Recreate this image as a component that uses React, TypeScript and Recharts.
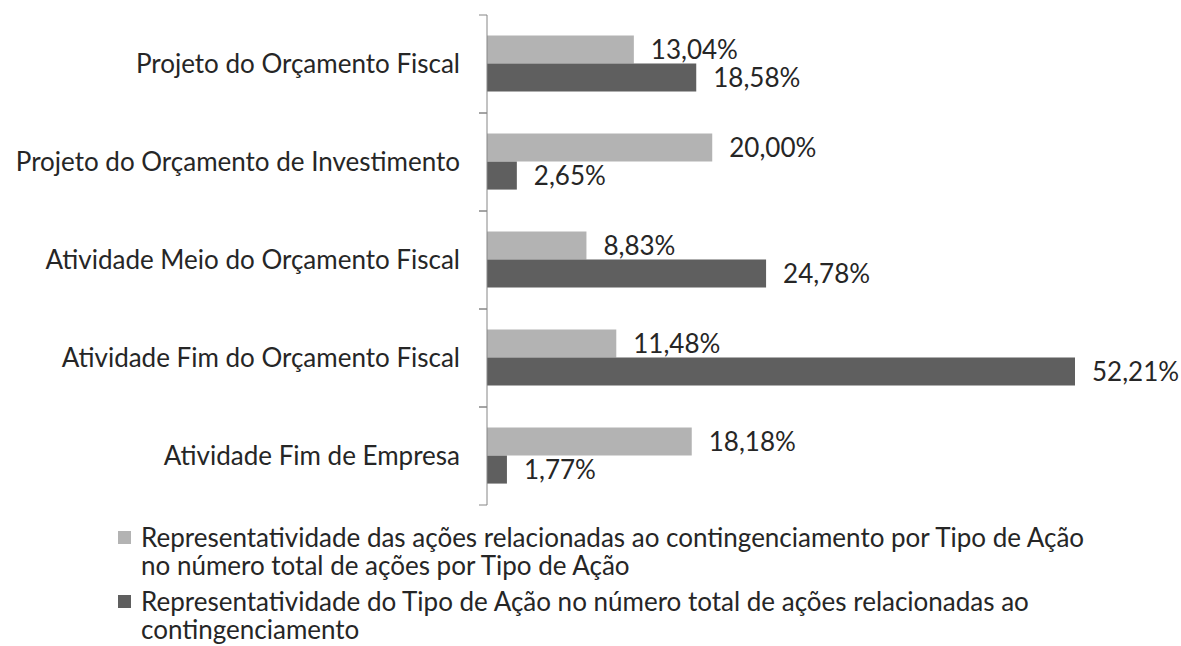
import { BarChart, Bar, XAxis, YAxis, Legend, LabelList } from 'recharts';

const categorias = [
    'Projeto do Orçamento Fiscal',
    'Projeto do Orçamento de Investimento',
    'Atividade Meio do Orçamento Fiscal',
    'Atividade Fim do Orçamento Fiscal',
    'Atividade Fim de Empresa',
];
const representatividadeAcoes = [13.04, 20.0, 8.83, 11.48, 18.18];
const representatividadeTipo = [18.58, 2.65, 24.78, 52.21, 1.77];

const serieNomes = [
    'Representatividade das ações relacionadas ao contingenciamento por Tipo de Ação no número total de ações por Tipo de Ação',
    'Representatividade do Tipo de Ação no número total de ações relacionadas ao contingenciamento',
];

const COLORS = ['#b3b3b3', '#5f5f5f'];
const FONT = 'Lato, "Open Sans", sans-serif';
const FS = 26;

const data = categorias.map((name, i) => ({
    name,
    acoes: representatividadeAcoes[i],
    tipo: representatividadeTipo[i],
}));

const W = 1181;
const H = 646;
const margin = { top: 15, right: 106, bottom: 141, left: 0 };
const bandHalf = (H - margin.top - margin.bottom) / categorias.length / 2;

const fmt = (v: any) => `${Number(v).toFixed(2).replace('.', ',')}%`;

const CategoryTick = (props: any) => {
    const { x, y, payload } = props;
    const axisX = x + 27;
    return (
        <g>
            <line x1={axisX - 8} x2={axisX} y1={y - bandHalf} y2={y - bandHalf} stroke='#868686' />
            <line x1={axisX - 8} x2={axisX} y1={y + bandHalf} y2={y + bandHalf} stroke='#868686' />
            <text x={x} y={y} dy={9} textAnchor='end' fill='#262626' fontSize={FS} fontFamily={FONT}>
                {payload.value}
            </text>
        </g>
    );
};

const LegendBox = () => (
    <div style={{ fontFamily: FONT, fontSize: FS, color: '#262626', lineHeight: '28px', textAlign: 'left' }}>
        {serieNomes.map((nome, i) => (
            <div key={i} style={{ display: 'flex', alignItems: 'flex-start', marginBottom: 8 }}>
                <div style={{ width: 13, height: 13, background: COLORS[i], marginTop: 8, marginRight: 10, flexShrink: 0 }}></div>
                <div style={{ width: 950 }}>{nome}</div>
            </div>
        ))}
    </div>
);

export default function App() {
    return (
        <div style={{ position: 'absolute', left: 0, top: 0, width: W, height: H, background: '#fff' }}>
            <BarChart width={W} height={H} data={data} layout='vertical' margin={margin} barGap={0} barCategoryGap='21%'>
                <XAxis type='number' hide domain={[0, 'dataMax']} />
                <YAxis
                    type='category'
                    dataKey='name'
                    width={487}
                    axisLine={{ stroke: '#868686' }}
                    tickLine={false}
                    tickSize={8}
                    tickMargin={19}
                    tick={<CategoryTick />}
                    interval={0}
                />
                <Legend
                    layout='horizontal'
                    verticalAlign='middle'
                    align='center'
                    content={<LegendBox />}
                    wrapperStyle={{ left: 118, top: 523, width: 1000 }}
                />
                <Bar dataKey='acoes' name={serieNomes[0]} fill={COLORS[0]} isAnimationActive={false}>
                    <LabelList dataKey='acoes' position='right' offset={17} formatter={fmt} fill='#262626' fontSize={FS} fontFamily={FONT} />
                </Bar>
                <Bar dataKey='tipo' name={serieNomes[1]} fill={COLORS[1]} isAnimationActive={false}>
                    <LabelList dataKey='tipo' position='right' offset={17} formatter={fmt} fill='#262626' fontSize={FS} fontFamily={FONT} />
                </Bar>
            </BarChart>
        </div>
    );
}
